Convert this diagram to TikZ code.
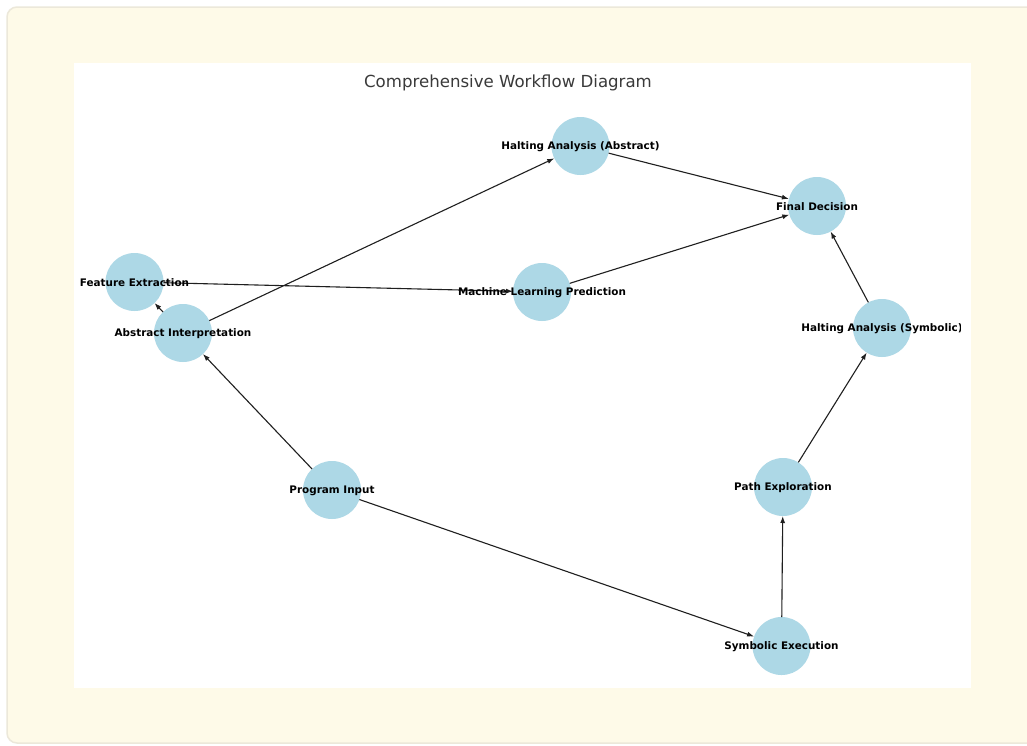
\documentclass[tikz,border=0pt]{standalone}
\usepackage{fontspec}
\setmainfont{DejaVu Sans}
\usetikzlibrary{arrows.meta}
\definecolor{cream}{HTML}{FEFAE8}
\definecolor{creamline}{HTML}{ECE8DA}
\definecolor{nodeblue}{HTML}{ADD8E6}
\definecolor{titlegray}{HTML}{3A3A3A}
\begin{document}
\begin{tikzpicture}[x=1pt,y=-1pt,
  circ/.style={circle,fill=nodeblue,minimum size=58pt,inner sep=0pt,outer sep=0pt},
  lbl/.style={font=\fontsize{10.4}{12}\selectfont\bfseries,text=black,inner sep=0pt},
  edge/.style={draw=black!88,line width=1.1pt,-{Latex[length=7pt,width=5pt]}}]
\useasboundingbox (0,0) rectangle (1027,745);
\fill[white] (0,0) rectangle (1027,745);
\begin{scope}
\clip (0,0) rectangle (1027,745);
\draw[creamline,fill=cream,line width=1.5pt,rounded corners=10pt] (7,7) rectangle (1040,743);
\end{scope}
\fill[white] (74,63) rectangle (971,688);
\node[font=\fontsize{16.6}{19}\selectfont,text=titlegray] (title) at (508,83) {Comprehensive Workflow Diagram};
% nodes
\node[circ] (ha) at (580.5,146) {};
\node[circ] (fd) at (817,206) {};
\node[circ] (fe) at (134.5,282) {};
\node[circ] (ml) at (542,292) {};
\node[circ] (ai) at (183,333) {};
\node[circ] (hs) at (882,328) {};
\node[circ] (pi) at (332,490) {};
\node[circ] (pe) at (783,487) {};
\node[circ] (se) at (781.5,646) {};
% edges
\draw[edge] (pi) -- (ai);
\draw[edge] (pi) -- (se);
\draw[edge] (ai) -- (fe);
\draw[edge] (ai) -- (ha);
\draw[edge] (fe) -- (ml);
\draw[edge] (ha) -- (fd);
\draw[edge] (ml) -- (fd);
\draw[edge] (se) -- (pe);
\draw[edge] (pe) -- (hs);
\draw[edge] (hs) -- (fd);
% labels
\begin{scope}
\clip (74,63) rectangle (960,688);
\node[lbl] (tha) at ([yshift=-1pt]ha) {Halting Analysis (Abstract)};
\node[lbl] (tfd) at ([yshift=-1pt]fd) {Final Decision};
\node[lbl] (tfe) at ([yshift=-1pt]fe) {Feature Extraction};
\node[lbl] (tml) at ([yshift=-1pt]ml) {Machine Learning Prediction};
\node[lbl] (tai) at ([yshift=-1pt]ai) {Abstract Interpretation};
\node[lbl] (ths) at ([yshift=-1pt]hs) {Halting Analysis (Symbolic)};
\node[lbl] (tpi) at ([yshift=-1pt]pi) {Program Input};
\node[lbl] (tpe) at ([yshift=-1pt]pe) {Path Exploration};
\node[lbl] (tse) at ([yshift=-1pt]se) {Symbolic Execution};
\end{scope}
\end{tikzpicture}
\end{document}
